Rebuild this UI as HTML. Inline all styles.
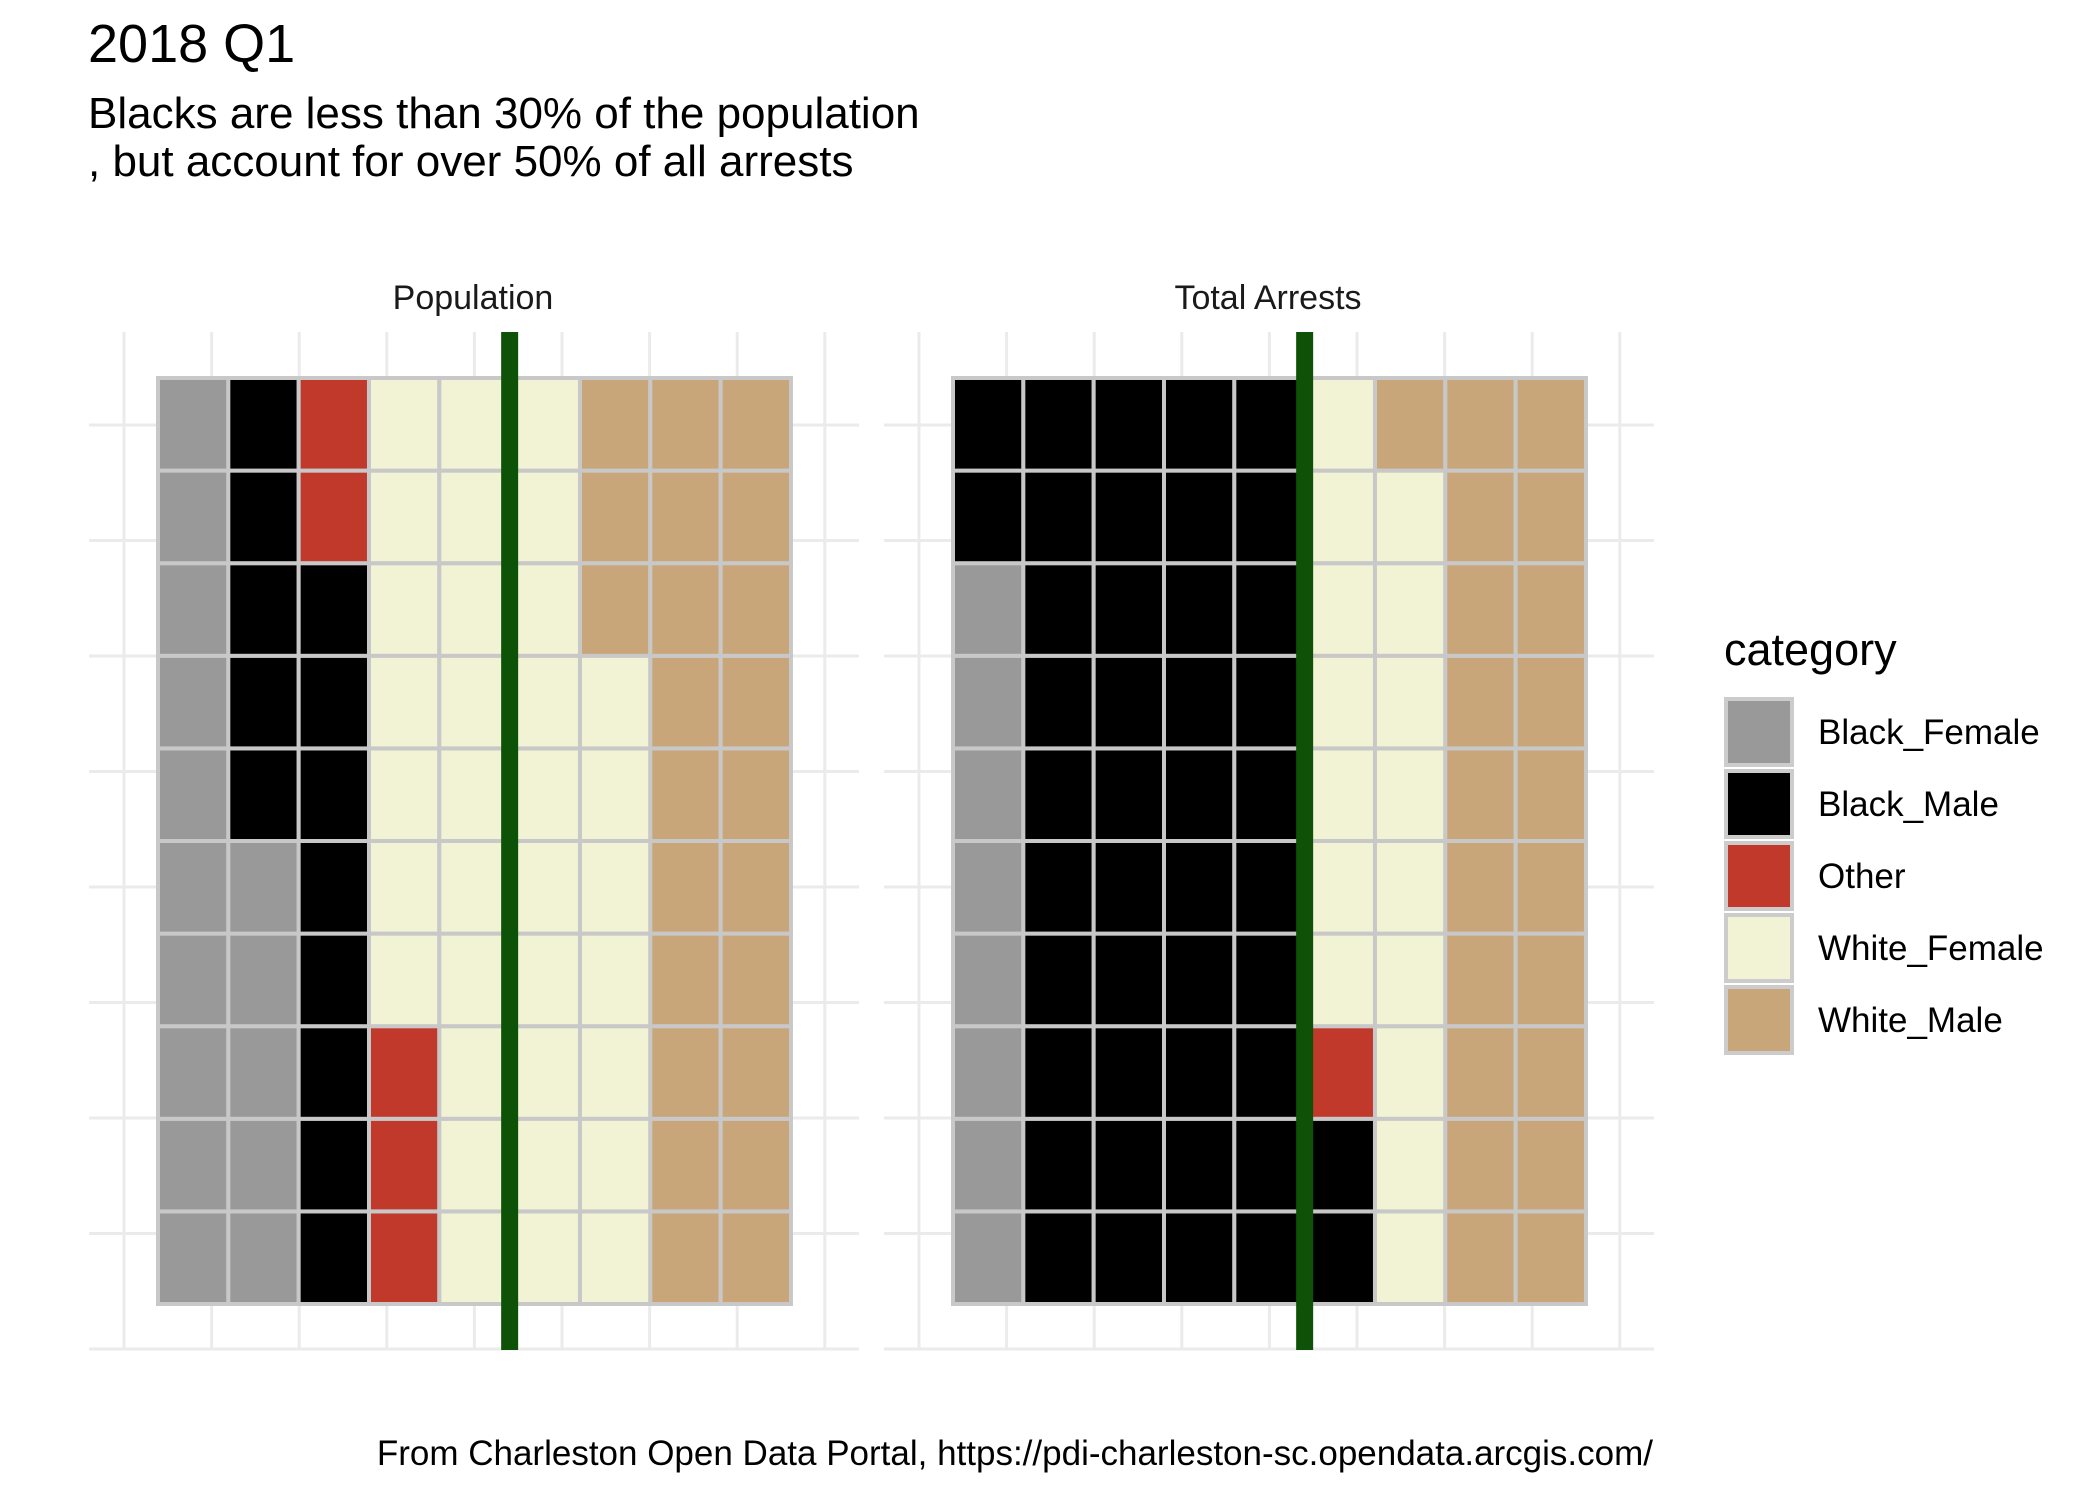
<!DOCTYPE html>
<html><head><meta charset="utf-8"><title>2018 Q1</title>
<style>html,body{margin:0;padding:0;background:#fff}svg{display:block;font-family:"Liberation Sans",Arial,sans-serif}</style>
</head><body>
<svg id="chart" width="2099" height="1499" viewBox="0 0 2099 1499" xmlns="http://www.w3.org/2000/svg">
<rect width="2099" height="1499" fill="#fff"/>
<text x="88" y="62" font-size="54" fill="#000">2018 Q1</text>
<text x="88" y="128" font-size="44" fill="#000">Blacks are less than 30% of the population</text>
<text x="88" y="176" font-size="44" fill="#000">, but account for over 50% of all arrests</text>
<g id="panels"></g>
<g id="legend">
<text x="1724" y="665" font-size="45" fill="#000">category</text>
</g>
<text x="1653" y="1465" font-size="35" text-anchor="end" fill="#000">From Charleston Open Data Portal, https://pdi-charleston-sc.opendata.arcgis.com/</text>
</svg>
<script>
const categories = ["Black_Female","Black_Male","Other","White_Female","White_Male"];
const colors = ["#999999","#000000","#c0392b","#f2f2d5","#c8a67a"];
const panelNames = ["Population","Total Arrests"];
const populationCounts = [15,13,5,34,23];
const arrestCounts = [8,44,1,16,21];
const refColumn = 5;
const nRows = 10, nCols = 9;

const NS = "http://www.w3.org/2000/svg";
const svg = document.getElementById('panels');
function mk(tag, attrs, parent){const e=document.createElementNS(NS,tag);for(const k in attrs)e.setAttribute(k,attrs[k]);parent.appendChild(e);return e;}

const panelOffsets = [0,795];
const tileX0 = 158, tileW = 70.33, tileY0 = 378, tileH = 92.6;
function xScale(c, off){return off + tileX0 + c*tileW;}
function yScale(r){return tileY0 + r*tileH;}

[populationCounts, arrestCounts].forEach((counts, p) => {
  const off = panelOffsets[p];
  const g = mk('g',{},svg);
  
  
  // grid
  for (let k=0;k<9;k++){
    const l = mk('line',{x1:off+124+k*87.6,x2:off+124+k*87.6,y1:332,y2:1350,stroke:'#ebebeb','stroke-width':3},g);
    
    
  }
  for (let k=0;k<9;k++){
    const y = 425 + k*115.5;
    const l = mk('line',{x1:off+89,x2:off+859,y1:y,y2:y,stroke:'#ebebeb','stroke-width':3},g);
    
    
  }
  // strip label
  const t = mk('text',{x:off+473,y:309,'font-size':34,'text-anchor':'middle',fill:'#1a1a1a'},g);
  t.textContent = panelNames[p];
  
  
  // tiles: column-major, bottom to top
  const cells = [];
  counts.forEach((n,ci)=>{for(let i=0;i<n;i++)cells.push(ci);});
  cells.forEach((ci, idx) => {
    const col = Math.floor(idx / nRows);
    const row = nRows - 1 - (idx % nRows);
    const r = mk('rect',{x:xScale(col,off),y:yScale(row),width:tileW,height:tileH,fill:colors[ci],stroke:'#c8c8c8','stroke-width':4},g);
    
    
  });
  // reference line
  const x = xScale(refColumn, off);
  const rl = mk('line',{x1:x,x2:x,y1:332,y2:1350,stroke:'#0d5207','stroke-width':17},g);
  
  
});

const lg = document.getElementById('legend');
categories.forEach((c,i)=>{
  const y = 697 + i*72;
  const k = mk('rect',{x:1726,y:y+2,width:66,height:66,fill:colors[i],stroke:'#cccccc','stroke-width':4},lg);
  
  
  const t = mk('text',{x:1818,y:y+47,'font-size':35,fill:'#000'},lg);
  t.textContent = c;
  
  
});
</script>
</body></html>
